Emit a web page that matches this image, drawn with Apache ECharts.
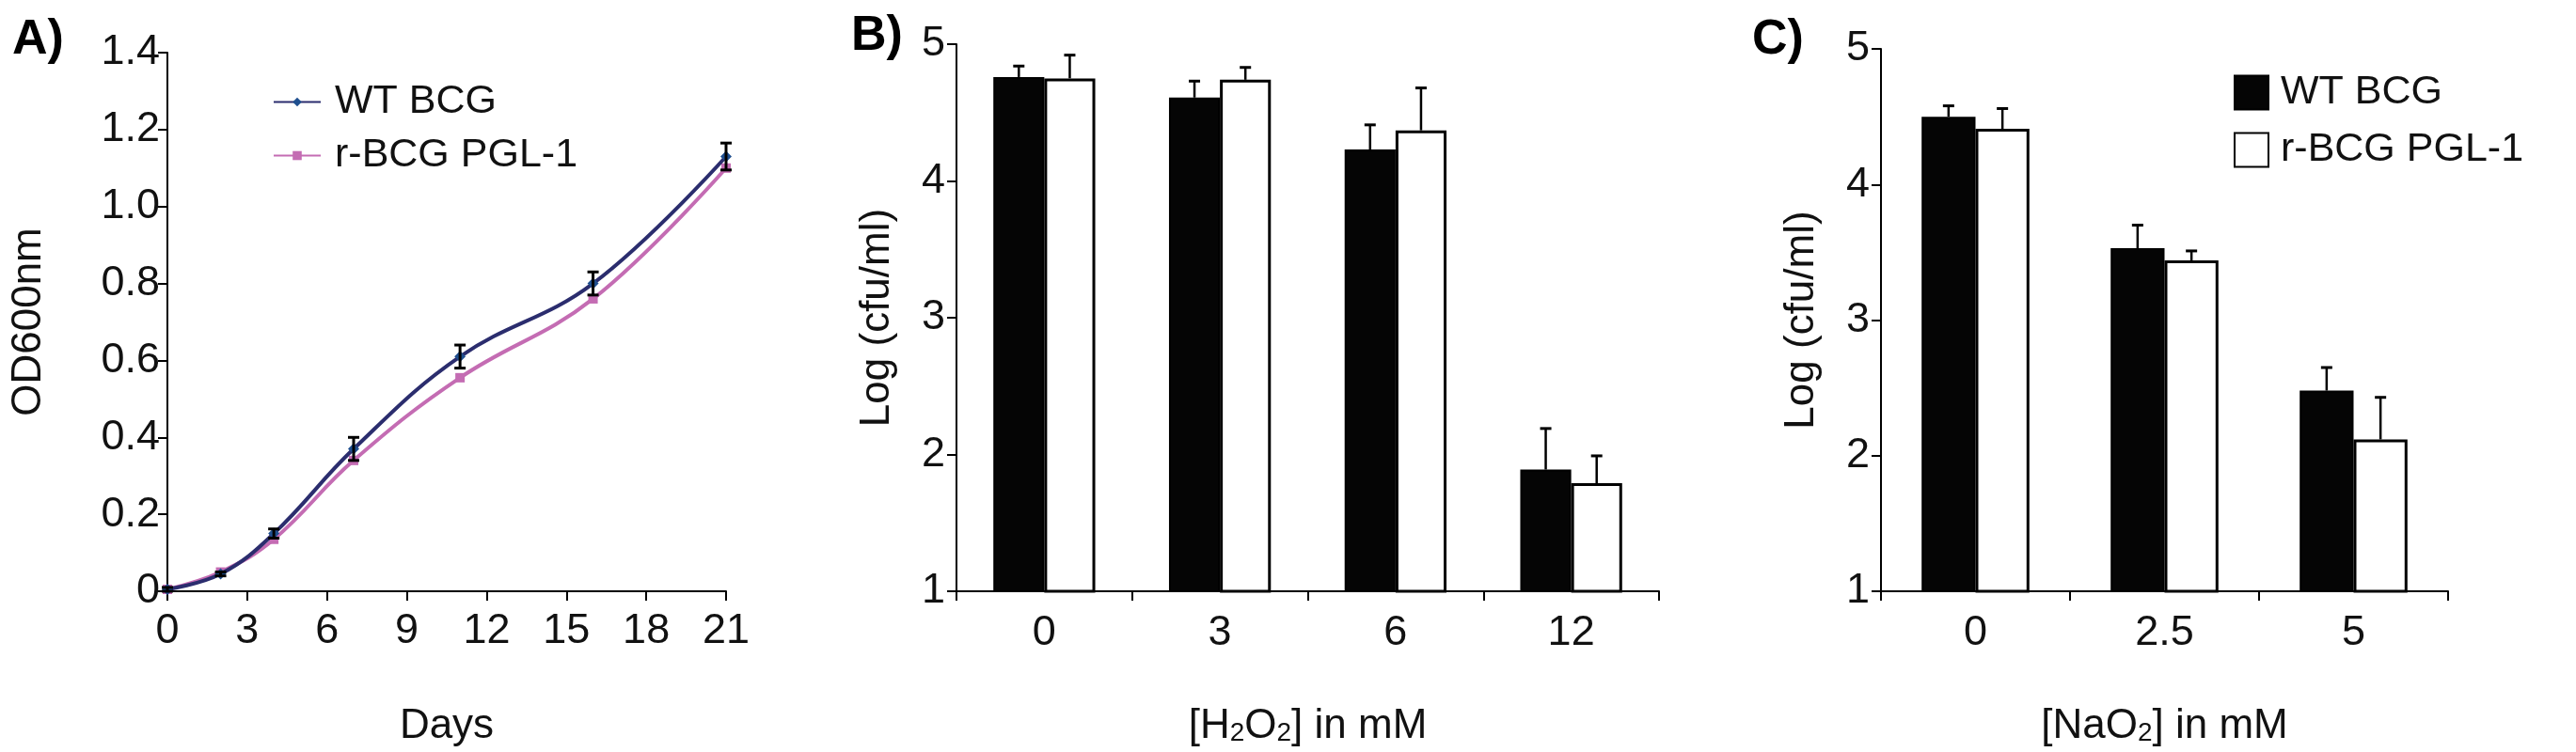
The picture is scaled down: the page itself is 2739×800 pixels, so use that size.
<!DOCTYPE html>
<html>
<head>
<meta charset="utf-8">
<script src="https://cdn.jsdelivr.net/npm/echarts@6/dist/echarts.min.js"></script>
<style>html,body{margin:0;background:#fff}#chart{width:2739px;height:800px}</style>
</head>
<body>
<div id="chart"></div>
<script>
// Panel A: growth curve
const daysA = [0, 2, 4, 7, 11, 16, 21];
const wtA = [0.005, 0.045, 0.15, 0.37, 0.61, 0.80, 1.13];
const wtErrA = [0.005, 0.005, 0.012, 0.03, 0.03, 0.03, 0.035];
const pglA = [0.005, 0.05, 0.135, 0.34, 0.555, 0.76, 1.10];
const xTicksA = [0, 3, 6, 9, 12, 15, 18, 21];

// Panel B: H2O2
const catB = ['0', '3', '6', '12'];
const wtB = [4.76, 4.61, 4.23, 1.89];
const wtErrB = [0.08, 0.12, 0.18, 0.30];
const pglB = [4.75, 4.74, 4.37, 1.79];
const pglErrB = [0.17, 0.09, 0.31, 0.20];

// Panel C: NaO2
const catC = ['0', '2.5', '5'];
const wtC = [4.50, 3.53, 2.48];
const wtErrC = [0.08, 0.17, 0.17];
const pglC = [4.41, 3.44, 2.12];
const pglErrC = [0.15, 0.07, 0.31];

const font = 'Liberation Sans, Arial, sans-serif';
const chart = echarts.init(document.getElementById('chart'));

const axisLine = { show: true, lineStyle: { color: '#000', width: 2 } };
const axisTick = { show: true, inside: false, length: 10, lineStyle: { color: '#000', width: 2 } };
const label = { color: '#111', fontSize: 45, fontFamily: font };
const nameStyle = { fontSize: 44, color: '#111', rich: { sub: { fontSize: 28, color: '#111', padding: [14, 0, 0, 0] } } };

function barErr(idx, side, vals, errs, gap) {
  return {
    type: 'custom', xAxisIndex: idx, yAxisIndex: idx, z: 1,
    data: vals.map((v, i) => [i, v, v + errs[i]]),
    renderItem: function (params, api) {
      const band = api.size([1, 0])[0];
      const bw = band * (1 - gap) / 2;
      const c = api.coord([api.value(0), api.value(1)]);
      const t = api.coord([api.value(0), api.value(2)]);
      const x = c[0] + side * bw / 2;
      return { type: 'group', children: [
        { type: 'line', shape: { x1: x, y1: c[1], x2: x, y2: t[1] }, style: { stroke: '#000', lineWidth: 2.5 } },
        { type: 'line', shape: { x1: x - 6, y1: t[1], x2: x + 6, y2: t[1] }, style: { stroke: '#000', lineWidth: 3 } }
      ] };
    }
  };
}

const gapB = 0.42, gapC = 0.43;

chart.setOption({
  animation: false,
  textStyle: { fontFamily: font },
  title: [
    { text: 'A)', left: 8, top: 12, textStyle: { fontSize: 52, fontWeight: 'bold', color: '#000' } },
    { text: 'B)', left: 900, top: 8, textStyle: { fontSize: 52, fontWeight: 'bold', color: '#000' } },
    { text: 'C)', left: 1858, top: 12, textStyle: { fontSize: 52, fontWeight: 'bold', color: '#000' } }
  ],
  legend: [
    { data: ['WT BCG', 'r-BCG PGL-1'], left: 285, top: 82, orient: 'vertical', itemGap: 14,
      itemWidth: 50, itemHeight: 12, textStyle: { fontSize: 43, color: '#111', padding: [0, 0, 0, 10] } },
    { data: [{ name: 'WT BCG C' }, { name: 'r-BCG PGL-1 C' }], left: 2370, top: 72, orient: 'vertical',
      itemGap: 18, itemWidth: 36, itemHeight: 36, icon: 'rect',
      formatter: n => n.replace(' C', ''), textStyle: { fontSize: 43, color: '#111', padding: [0, 0, 0, 8] } }
  ],
  grid: [
    { left: 178, top: 56, width: 594, height: 580 },
    { left: 1017, top: 47, width: 747, height: 591 },
    { left: 2000, top: 52, width: 603, height: 582 }
  ],
  xAxis: [
    { gridIndex: 0, type: 'value', min: 0, max: 21, interval: 3, axisLine, axisTick, splitLine: { show: false },
      axisLabel: Object.assign({ margin: 20 }, label),
      name: 'Days', nameLocation: 'middle', nameGap: 122, nameTextStyle: nameStyle },
    { gridIndex: 1, type: 'category', data: catB, axisLine, axisTick, axisLabel: Object.assign({ margin: 22 }, label),
      name: '[H{sub|2}O{sub|2}] in mM', nameLocation: 'middle', nameGap: 122, nameTextStyle: nameStyle },
    { gridIndex: 2, type: 'category', data: catC, axisLine, axisTick, axisLabel: Object.assign({ margin: 22 }, label),
      name: '[NaO{sub|2}] in mM', nameLocation: 'middle', nameGap: 122, nameTextStyle: nameStyle }
  ],
  yAxis: [
    { gridIndex: 0, type: 'value', min: 0, max: 1.4, interval: 0.2, axisLine, axisTick, splitLine: { show: false },
      axisLabel: Object.assign({ margin: 8, formatter: v => v === 0 ? '0' : v.toFixed(1) }, label),
      name: 'OD600nm', nameLocation: 'middle', nameGap: 125, nameTextStyle: nameStyle },
    { gridIndex: 1, type: 'value', min: 1, max: 5, interval: 1, axisLine, axisTick, splitLine: { show: false },
      axisLabel: Object.assign({ margin: 12 }, label),
      name: 'Log (cfu/ml)', nameLocation: 'middle', nameGap: 62, nameTextStyle: nameStyle },
    { gridIndex: 2, type: 'value', min: 1, max: 5, interval: 1, axisLine, axisTick, splitLine: { show: false },
      axisLabel: Object.assign({ margin: 12 }, label),
      name: 'Log (cfu/ml)', nameLocation: 'middle', nameGap: 62, nameTextStyle: nameStyle }
  ],
  series: [
    { name: 'WT BCG', type: 'line', xAxisIndex: 0, yAxisIndex: 0, smooth: 0.4, z: 3,
      data: daysA.map((d, i) => [d, wtA[i]]), symbol: 'diamond', symbolSize: 12,
      lineStyle: { color: '#2b2d6e', width: 4 }, itemStyle: { color: '#1f4f8f' } },
    { name: 'r-BCG PGL-1', type: 'line', xAxisIndex: 0, yAxisIndex: 0, smooth: 0.4, z: 2,
      data: daysA.map((d, i) => [d, pglA[i]]), symbol: 'rect', symbolSize: 10,
      lineStyle: { color: '#c46cb3', width: 4 }, itemStyle: { color: '#c46cb3' } },
    { type: 'custom', xAxisIndex: 0, yAxisIndex: 0, z: 4,
      data: daysA.map((d, i) => [d, wtA[i] - wtErrA[i], wtA[i] + wtErrA[i]]),
      renderItem: function (params, api) {
        const lo = api.coord([api.value(0), api.value(1)]);
        const hi = api.coord([api.value(0), api.value(2)]);
        return { type: 'group', children: [
          { type: 'line', shape: { x1: lo[0], y1: lo[1], x2: hi[0], y2: hi[1] }, style: { stroke: '#000', lineWidth: 3 } },
          { type: 'line', shape: { x1: hi[0] - 6, y1: hi[1], x2: hi[0] + 6, y2: hi[1] }, style: { stroke: '#000', lineWidth: 3 } },
          { type: 'line', shape: { x1: lo[0] - 6, y1: lo[1], x2: lo[0] + 6, y2: lo[1] }, style: { stroke: '#000', lineWidth: 3 } }
        ] };
      } },

    { name: 'WT BCG B', type: 'bar', xAxisIndex: 1, yAxisIndex: 1, data: wtB, barGap: 0, barCategoryGap: '42%',
      itemStyle: { color: '#050505', borderColor: '#000', borderWidth: 2 } },
    { name: 'r-BCG PGL-1 B', type: 'bar', xAxisIndex: 1, yAxisIndex: 1, data: pglB, barGap: 0, barCategoryGap: '42%',
      itemStyle: { color: '#fff', borderColor: '#000', borderWidth: 3 } },
    barErr(1, -1, wtB, wtErrB, gapB),
    barErr(1, 1, pglB, pglErrB, gapB),

    { name: 'WT BCG C', type: 'bar', xAxisIndex: 2, yAxisIndex: 2, data: wtC, barGap: 0, barCategoryGap: '43%',
      itemStyle: { color: '#050505', borderColor: '#000', borderWidth: 2 } },
    { name: 'r-BCG PGL-1 C', type: 'bar', xAxisIndex: 2, yAxisIndex: 2, data: pglC, barGap: 0, barCategoryGap: '43%',
      itemStyle: { color: '#fff', borderColor: '#000', borderWidth: 3 } },
    barErr(2, -1, wtC, wtErrC, gapC),
    barErr(2, 1, pglC, pglErrC, gapC)
  ]
});
</script>
</body>
</html>
